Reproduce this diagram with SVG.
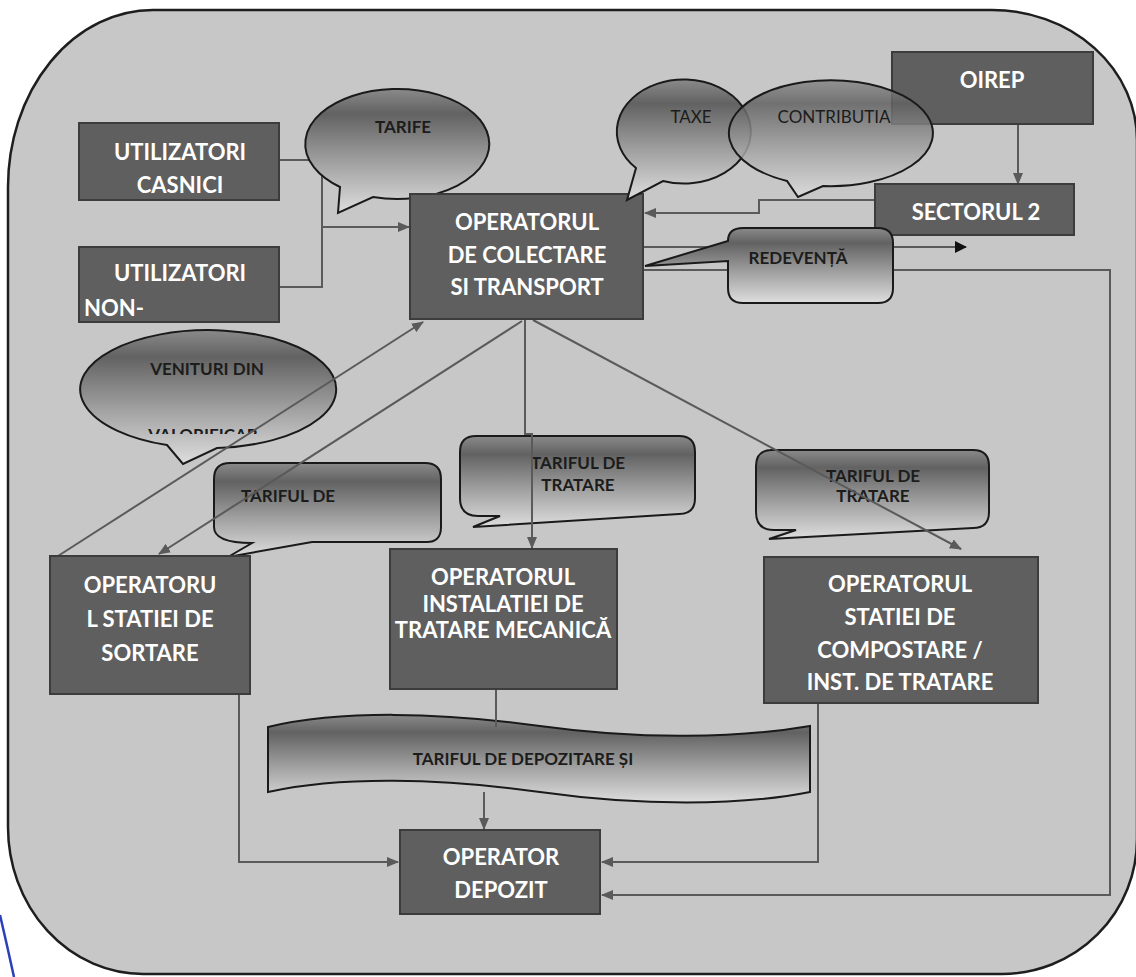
<svg xmlns="http://www.w3.org/2000/svg" width="1136" height="977" viewBox="0 0 1136 977">
<style>
.frame{fill:#c7c7c7;stroke:#1e1e1e;stroke-width:2.5}
.box{fill:#5f5f5f;stroke:#3c3c3c;stroke-width:2}
.bt{font-family:Lato,"Liberation Sans",sans-serif;font-weight:700;font-size:22px;fill:#ffffff;text-anchor:middle}
.co{fill:url(#cg);stroke:#1a1a1a;stroke-width:2}
.ct{font-family:Lato,"Liberation Sans",sans-serif;font-weight:700;font-size:17px;fill:#1c1c1c;text-anchor:middle}
.ctr{font-family:Lato,"Liberation Sans",sans-serif;font-weight:400;font-size:17px;fill:#1c1c1c;text-anchor:middle}
.ln{fill:none;stroke:#5a5a5a;stroke-width:2}
.arr{marker-end:url(#ah)}
</style>
<defs>
<linearGradient id="cg" x1="0" y1="0" x2="0" y2="1">
<stop offset="0" stop-color="#8a8a8a"/>
<stop offset="0.2" stop-color="#626262"/>
<stop offset="0.6" stop-color="#a2a2a2"/>
<stop offset="1" stop-color="#dedede"/>
</linearGradient>
<marker id="ah" markerUnits="userSpaceOnUse" markerWidth="12" markerHeight="10" refX="11" refY="5" orient="auto">
<path d="M0,0 L12,5 L0,10 Z" fill="#5a5a5a"/>
</marker>
<marker id="ahb" markerUnits="userSpaceOnUse" markerWidth="12" markerHeight="12" refX="11" refY="6" orient="auto">
<path d="M0,0 L12,6 L0,12 Z" fill="#111111"/>
</marker>
<clipPath id="vclip"><rect x="60" y="330" width="280" height="104"/></clipPath>
</defs>

<rect x="0" y="0" width="1136" height="977" fill="#ffffff"/>
<path class="frame" d="M153,10 H992 A145,130 0 0 1 1137,140 V839 A135,135 0 0 1 1002,974 H143 A135,147 0 0 1 8,827 V187 A145,177 0 0 1 153,10 Z"/>
<path d="M0,915 Q7,945 14,977" fill="none" stroke="#2b3fb8" stroke-width="2.5"/>

<g id="callout-venituri">
<path class="co" d="M167,445 A128,59 0 1 1 217,448 L183,464 Z"/>
<text class="ct" x="207" y="375">VENITURI DIN</text>
<text class="ct" x="203" y="441" clip-path="url(#vclip)">VALORIFICAR</text>
</g>
<g id="callout-tarif-sortare">
<path class="co" d="M230,463 H425 Q441,463 441,479 V527 Q441,543 425,542 L312,542 L228,557 L252,543 Q214,543 214,527 V479 Q214,463 230,463 Z"/>
<text class="ct" x="288" y="502">TARIFUL DE</text>
</g>
<g id="callout-tarif-tratare-1">
<path class="co" d="M476,436 H679 Q695,436 695,452 V498 Q695,514 679,514 L473,527 L500,516 L478,516 Q460,516 460,498 V452 Q460,436 476,436 Z"/>
<text class="ct" x="578" y="469">TARIFUL DE</text>
<text class="ct" x="578" y="491">TRATARE</text>
</g>
<g id="callout-tarif-tratare-2">
<path class="co" d="M772,450 H973 Q989,450 989,466 V512 Q989,528 973,528 L769,539 L796,530 L774,530 Q756,530 756,512 V466 Q756,450 772,450 Z"/>
<text class="ct" x="873" y="482">TARIFUL DE</text>
<text class="ct" x="873" y="502">TRATARE</text>
</g>
<g id="callout-tarif-depozitare">
<path class="co" d="M268,727 C340,710 440,712 540,726 C640,740 740,738 810,726 V792 C740,806 640,806 540,792 C440,778 340,776 268,792 Z"/>
<text class="ct" x="523" y="765">TARIFUL DE DEPOZITARE ȘI</text>
</g>

<g id="connectors">
<path class="ln" d="M279,160 H322 V287 H279"/>
<path class="ln arr" d="M322,227 H409"/>
<path class="ln arr" d="M876,200 H759 V213 H645"/>
<path class="ln arr" d="M1018,124 V184"/>
<path class="ln" d="M643,247 H966" marker-end="url(#ahb)"/>
<path class="ln arr" d="M643,270 H1110 V895 H602"/>
<path class="ln arr" d="M522,321 L159,554"/>
<path class="ln arr" d="M58,556 L423,322"/>
<path class="ln arr" d="M525,319 V434 H532 V548"/>
<path class="ln arr" d="M533,320 L961,549"/>
<path class="ln arr" d="M239,694 V862 H398"/>
<path class="ln" d="M496,689 V727"/>
<path class="ln arr" d="M484,792 V829"/>
<path class="ln arr" d="M818,703 V862 H602"/>
</g>

<g id="callout-tarife">
<path class="co" d="M340,187 A92,55 0 1 1 373,197 L338,213 Z"/>
<text class="ct" x="403" y="133">TARIFE</text>
</g>

<g id="n-utilizatori-casnici">
<rect class="box" x="79" y="123" width="200" height="77"/>
<text class="bt" x="180" y="160">UTILIZATORI</text>
<text class="bt" x="180" y="193">CASNICI</text>
</g>
<g id="n-utilizatori-noncasnici">
<rect class="box" x="79" y="247" width="200" height="75"/>
<text class="bt" x="180" y="281">UTILIZATORI</text>
<text class="bt" x="114" y="316" text-anchor="start">NON-</text>
</g>
<g id="n-operator-colectare">
<rect class="box" x="410" y="194" width="233" height="125"/>
<text class="bt" x="527" y="230">OPERATORUL</text>
<text class="bt" x="527" y="263">DE COLECTARE</text>
<text class="bt" x="527" y="295">SI TRANSPORT</text>
</g>
<g id="n-oirep">
<rect class="box" x="892" y="52" width="201" height="72"/>
<text class="bt" x="992" y="88">OIREP</text>
</g>
<g id="n-sectorul2">
<rect class="box" x="875" y="184" width="199" height="51"/>
<text class="bt" x="976" y="220">SECTORUL 2</text>
</g>
<g id="n-statie-sortare">
<rect class="box" x="50" y="556" width="200" height="138"/>
<text class="bt" x="150" y="593">OPERATORU</text>
<text class="bt" x="150" y="627">L STATIEI DE</text>
<text class="bt" x="150" y="661">SORTARE</text>
</g>
<g id="n-tratare-mecanica">
<rect class="box" x="390" y="549" width="227" height="140"/>
<text class="bt" x="503" y="585">OPERATORUL</text>
<text class="bt" x="503" y="612">INSTALATIEI DE</text>
<text class="bt" x="503" y="638">TRATARE MECANICĂ</text>
</g>
<g id="n-compostare">
<rect class="box" x="764" y="557" width="274" height="146"/>
<text class="bt" x="900" y="592">OPERATORUL</text>
<text class="bt" x="900" y="625">STATIEI DE</text>
<text class="bt" x="900" y="658">COMPOSTARE /</text>
<text class="bt" x="900" y="690">INST. DE TRATARE</text>
</g>
<g id="n-depozit">
<rect class="box" x="400" y="830" width="200" height="84"/>
<text class="bt" x="501" y="865">OPERATOR</text>
<text class="bt" x="501" y="898">DEPOZIT</text>
</g>

<g id="callout-taxe">
<path class="co" d="M636,168 A67,52 0 1 1 663,181 L627,200 Z"/>
<text class="ctr" x="691" y="123">TAXE</text>
</g>
<g id="callout-contributia">
<path class="co" fill-opacity="0.85" d="M787,181 A102,53 0 1 1 823,186 L798,197 Z"/>
<text class="ctr" x="834" y="123">CONTRIBUTIA</text>
</g>
<g id="callout-redeventa">
<path class="co" d="M743,228 H878 Q893,228 893,243 V288 Q893,303 878,303 H743 Q728,303 728,288 V261 L645,266 L728,241 Q728,228 743,228 Z"/>
<text class="ct" x="798" y="264">REDEVENȚĂ</text>
</g>
</svg>
